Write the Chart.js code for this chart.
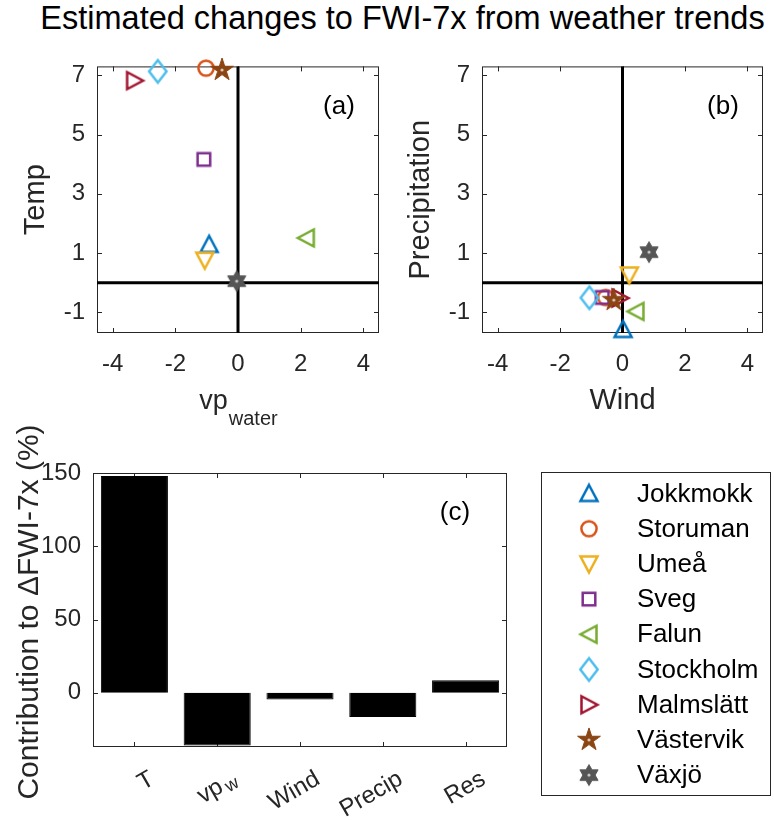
<!DOCTYPE html>
<html>
<head>
<meta charset="utf-8">
<script src="https://cdn.jsdelivr.net/npm/chart.js@4.4.1/dist/chart.umd.min.js"></script>
<style>
  html, body { margin: 0; padding: 0; background: #fff; }
  body { width: 774px; height: 821px; position: relative; overflow: hidden; font-family: 'Liberation Sans', Arial, sans-serif; }
  #titulo { position: absolute; left: 0; top: 0; width: 805px; text-align: center; font-size: 32.5px; color: #000; white-space: nowrap; }
  canvas { position: absolute; }
</style>
</head>
<body>
<div id="titulo">Estimated changes to FWI-7x from weather trends</div>
<canvas id="chartC" width="774" height="411" style="left:0;top:410px"></canvas>
<canvas id="chartA" width="390" height="420" style="left:0;top:40px"></canvas>
<canvas id="chartB" width="384" height="420" style="left:390px;top:40px"></canvas>
<script>
// estações e tendências estimadas
const estacoes = ['Jokkmokk', 'Storuman', 'Umeå', 'Sveg', 'Falun', 'Stockholm', 'Malmslätt', 'Västervik', 'Växjö'];
const cores = ['#0072BD', '#D95319', '#EDB120', '#7E2F8E', '#77AC30', '#4DBEEE', '#A2142F', '#8B4513', '#555555'];
const simbolos = ['up', 'circle', 'down', 'square', 'left', 'diamond', 'right', 'pentagram', 'hexagram'];

const vpWater = [-0.92, -1.02, -1.06, -1.09, 2.18, -2.56, -3.30, -0.51, -0.04];
const temp = [1.29, 7.24, 0.76, 4.16, 1.51, 7.13, 6.82, 7.18, 0.05];
const vento = [0.02, -0.54, 0.22, -0.65, 0.43, -1.06, -0.08, -0.28, 0.85];
const precip = [-1.58, -0.50, 0.26, -0.50, -0.97, -0.51, -0.52, -0.59, 1.03];

// painel (c)
const fatores = ['T', 'vp_w', 'Wind', 'Precip', 'Res'];
const contribuicao = [148, -36, -4.5, -16.5, 8.5];

const ticksX = [-4, -2, 0, 2, 4];
const ticksY = [-1, 1, 3, 5, 7];
const ticksC = [0, 50, 100, 150];

const FONTE = "'Liberation Sans', Arial, sans-serif";
const corEixo = '#262626';
const fonteTick = { family: FONTE, size: 24 };

// desenha cada marcador num canvas pequeno para usar como pointStyle
function criaMarcador(tipo, cor) {
  const c = document.createElement('canvas');
  c.width = 30; c.height = 30;
  const g = c.getContext('2d');
  g.translate(15, 15);
  g.strokeStyle = cor;
  g.fillStyle = cor;
  g.lineWidth = 2.5;
  g.beginPath();
  if (tipo === 'up') {
    g.moveTo(0, -8.5); g.lineTo(8.5, 7.5); g.lineTo(-8.5, 7.5);
  } else if (tipo === 'down') {
    g.moveTo(0, 8.5); g.lineTo(8.5, -7.5); g.lineTo(-8.5, -7.5);
  } else if (tipo === 'left') {
    g.moveTo(-8.5, 0); g.lineTo(7.5, -8.5); g.lineTo(7.5, 8.5);
  } else if (tipo === 'right') {
    g.moveTo(8.5, 0); g.lineTo(-7.5, -8.5); g.lineTo(-7.5, 8.5);
  } else if (tipo === 'circle') {
    g.arc(0, 0, 7.6, 0, Math.PI * 2);
  } else if (tipo === 'square') {
    g.rect(-6.3, -6.3, 12.6, 12.6);
  } else if (tipo === 'diamond') {
    g.moveTo(0, -11.2); g.lineTo(8.7, 0); g.lineTo(0, 11.2); g.lineTo(-8.7, 0);
  } else if (tipo === 'pentagram' || tipo === 'hexagram') {
    const n = tipo === 'pentagram' ? 5 : 6;
    const R = tipo === 'pentagram' ? 12 : 10.5;
    const r = tipo === 'pentagram' ? R * 0.382 : R / Math.sqrt(3);
    for (let k = 0; k < 2 * n; k++) {
      const ang = -Math.PI / 2 + k * Math.PI / n;
      const raio = k % 2 === 0 ? R : r;
      g.lineTo(Math.cos(ang) * raio, Math.sin(ang) * raio);
    }
    g.closePath();
    g.fill();
    g.lineWidth = 1;
    g.stroke();
    // pequeno furo no centro
    g.beginPath();
    g.fillStyle = 'rgba(255,255,255,0.7)';
    g.arc(0, 0, 1.6, 0, Math.PI * 2);
    g.fill();
    return c;
  }
  g.closePath();
  g.stroke();
  return c;
}

const marcadores = simbolos.map((s, i) => criaMarcador(s, cores[i]));

// moldura com marcas de escala para dentro, estilo MATLAB
const moldura = {
  id: 'moldura',
  beforeDatasetsDraw(chart) {
    const { ctx, chartArea: a, scales } = chart;
    ctx.save();
    ctx.strokeStyle = corEixo;
    ctx.lineWidth = 1;
    ctx.strokeRect(a.left + 0.5, a.top + 0.5, a.right - a.left - 1, a.bottom - a.top - 1);
    ctx.beginPath();
    scales.x.ticks.forEach((t, i) => {
      const px = Math.round(scales.x.getPixelForTick(i)) + 0.5;
      ctx.moveTo(px, a.bottom); ctx.lineTo(px, a.bottom - 5);
      ctx.moveTo(px, a.top); ctx.lineTo(px, a.top + 5);
    });
    scales.y.ticks.forEach((t, i) => {
      const py = Math.round(scales.y.getPixelForTick(i)) + 0.5;
      ctx.moveTo(a.left, py); ctx.lineTo(a.left + 5, py);
      ctx.moveTo(a.right, py); ctx.lineTo(a.right - 5, py);
    });
    ctx.stroke();

    const opts = chart.options.plugins.moldura;
    if (opts.zero) {
      const x0 = scales.x.getPixelForValue(0);
      const y0 = scales.y.getPixelForValue(0);
      ctx.strokeStyle = '#000';
      ctx.lineWidth = 3;
      ctx.beginPath();
      ctx.moveTo(x0, a.top); ctx.lineTo(x0, a.bottom);
      ctx.moveTo(a.left, y0); ctx.lineTo(a.right, y0);
      ctx.stroke();
    }
    ctx.restore();
  },
  afterDraw(chart) {
    const { ctx, chartArea: a } = chart;
    const opts = chart.options.plugins.moldura;
    ctx.save();
    ctx.fillStyle = '#000';
    ctx.font = `26px ${FONTE}`;
    ctx.textAlign = 'center';
    ctx.textBaseline = 'middle';
    ctx.fillText(opts.letra, a.right - opts.letraDx, a.top + 40);

    ctx.fillStyle = corEixo;
    // título do eixo y
    ctx.save();
    ctx.translate(a.left - opts.yDx, (a.top + a.bottom) / 2 + (opts.yDy || 0));
    ctx.rotate(-Math.PI / 2);
    ctx.font = `${opts.yTam || 29}px ${FONTE}`;
    ctx.fillText(opts.tituloY, 0, 0);
    ctx.restore();

    // título do eixo x, com subscrito opcional
    if (opts.tituloX) {
      const [base, sub] = opts.tituloX;
      const tam = sub ? 27 : 29;
      ctx.textAlign = 'left';
      ctx.textBaseline = 'alphabetic';
      ctx.font = `${tam}px ${FONTE}`;
      const wb = ctx.measureText(base).width;
      ctx.font = `20px ${FONTE}`;
      const ws = sub ? ctx.measureText(sub).width : 0;
      const x0 = (a.left + a.right) / 2 - (wb + ws) / 2;
      const yb = a.bottom + 76;
      ctx.font = `${tam}px ${FONTE}`;
      ctx.fillText(base, x0, yb);
      if (sub) {
        ctx.font = `20px ${FONTE}`;
        ctx.fillText(sub, x0 + wb + 1, yb + 16);
      }
    }
    ctx.restore();
  }
};

function opcoesDispersao(padRight, larguraY, extra) {
  return {
    responsive: false,
    animation: false,
    layout: { padding: { top: 21, right: padRight, left: 0, bottom: 0 } },
    scales: {
      x: {
        type: 'linear', min: -4.5, max: 4.5,
        afterBuildTicks: s => { s.ticks = ticksX.map(v => ({ value: v })); },
        afterFit: s => { s.height = 127; },
        grid: { display: false, drawTicks: false },
        border: { display: false },
        ticks: { color: corEixo, font: fonteTick, padding: 17 }
      },
      y: {
        type: 'linear', min: -1.7, max: 7.3,
        afterBuildTicks: s => { s.ticks = ticksY.map(v => ({ value: v })); },
        afterFit: s => { s.width = larguraY; },
        grid: { display: false, drawTicks: false },
        border: { display: false },
        ticks: { color: corEixo, font: fonteTick, padding: 12 }
      }
    },
    plugins: {
      legend: { display: false },
      tooltip: { enabled: false },
      moldura: Object.assign({ zero: true, letraDx: 40, yDx: 61 }, extra)
    }
  };
}

function conjuntos(xs, ys) {
  return estacoes.map((nome, i) => ({
    label: nome,
    data: [{ x: xs[i], y: ys[i] }],
    pointStyle: marcadores[i],
    pointRadius: 10,
    pointHoverRadius: 10,
    order: -i,
    clip: false
  }));
}

new Chart(document.getElementById('chartA'), {
  type: 'scatter',
  data: { datasets: conjuntos(vpWater, temp) },
  options: opcoesDispersao(7, 97, { letra: '(a)', tituloY: 'Temp', tituloX: ['vp', 'water'] }),
  plugins: [moldura]
});

new Chart(document.getElementById('chartB'), {
  type: 'scatter',
  data: { datasets: conjuntos(vento, precip) },
  options: opcoesDispersao(5, 92, { letra: '(b)', tituloY: 'Precipitation', tituloX: ['Wind', ''] }),
  plugins: [moldura]
});

// rótulos inclinados do painel (c) e a legenda das estações
const extrasC = {
  id: 'extrasC',
  afterDraw(chart) {
    const { ctx, chartArea: a, scales } = chart;
    ctx.save();
    ctx.fillStyle = corEixo;
    ctx.textAlign = 'right';
    ctx.textBaseline = 'top';
    fatores.forEach((rot, i) => {
      const px = scales.x.getPixelForTick(i);
      ctx.save();
      ctx.translate(px + 12, a.bottom + 20);
      ctx.rotate(-Math.PI / 6);
      const [base, sub] = rot.split('_');
      if (sub) {
        ctx.font = `18px ${FONTE}`;
        ctx.fillText(sub, 0, 8);
        const ws = ctx.measureText(sub).width;
        ctx.font = `24px ${FONTE}`;
        ctx.fillText(base, -ws - 3, 0);
      } else {
        ctx.font = `24px ${FONTE}`;
        ctx.fillText(base, 0, 0);
      }
      ctx.restore();
    });
    ctx.restore();

    // legenda
    const caixa = { left: 541.5, top: a.top - 0.5, width: 229, height: 323 };
    ctx.save();
    ctx.strokeStyle = corEixo;
    ctx.lineWidth = 1;
    ctx.strokeRect(caixa.left, caixa.top, caixa.width, caixa.height);
    ctx.font = `26px ${FONTE}`;
    ctx.fillStyle = '#000';
    ctx.textAlign = 'left';
    ctx.textBaseline = 'middle';
    estacoes.forEach((nome, i) => {
      const cy = caixa.top + 21 + i * 35.2;
      const m = marcadores[i];
      ctx.drawImage(m, 589 - m.width / 2, cy - m.height / 2);
      ctx.fillText(nome, 637, cy + 1);
    });
    ctx.restore();
  }
};

new Chart(document.getElementById('chartC'), {
  type: 'bar',
  data: {
    labels: fatores,
    datasets: [{
      data: contribuicao,
      backgroundColor: '#000',
      borderColor: '#000',
      borderWidth: 1,
      barPercentage: 0.81,
      categoryPercentage: 1
    }]
  },
  options: {
    responsive: false,
    animation: false,
    layout: { padding: { top: 63, right: 267, left: 0, bottom: 0 } },
    scales: {
      x: {
        afterFit: s => { s.height = 74; },
        grid: { display: false, drawTicks: false },
        border: { display: false },
        ticks: { display: false }
      },
      y: {
        type: 'linear', min: -37, max: 150,
        afterBuildTicks: s => { s.ticks = ticksC.map(v => ({ value: v })); },
        afterFit: s => { s.width = 93; },
        grid: { display: false, drawTicks: false },
        border: { display: false },
        ticks: { color: corEixo, font: fonteTick, padding: 12 }
      }
    },
    plugins: {
      legend: { display: false },
      tooltip: { enabled: false },
      moldura: { zero: false, letra: '(c)', letraDx: 52, yDx: 63, yDy: 2, yTam: 30, tituloY: 'Contribution to ΔFWI-7x (%)' }
    }
  },
  plugins: [moldura, extrasC]
});
</script>
</body>
</html>
